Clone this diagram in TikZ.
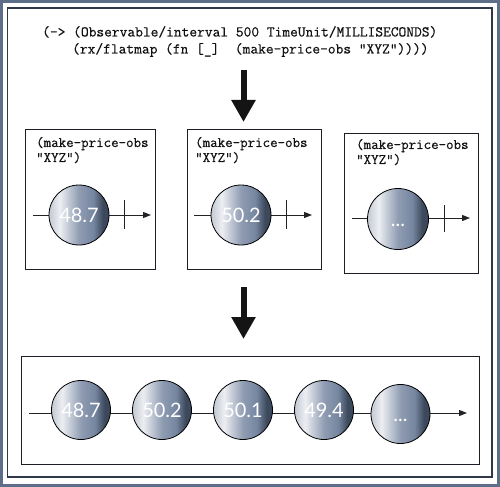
\documentclass[tikz,border=0pt]{standalone}
\usepackage{fontspec}
\usetikzlibrary{arrows.meta,backgrounds}
\newfontfamily\orbfont{Lato}
\newfontfamily\codefont{Latin Modern Mono}[FakeBold=0.5]
\definecolor{frameslate}{HTML}{5D6E88}
\definecolor{innerframe}{HTML}{2E3846}
\definecolor{boxline}{HTML}{1C2026}
\definecolor{codeblack}{HTML}{111111}
\definecolor{linedark}{HTML}{222326}
\definecolor{arrowblack}{HTML}{141414}
\definecolor{orbE}{HTML}{C3C9D3}
\definecolor{orbL}{HTML}{ECEEF2}
\definecolor{orbM}{HTML}{8F9CB2}
\definecolor{orbN}{HTML}{7686A0}
\definecolor{orbD}{HTML}{3C485B}
\pgfdeclarehorizontalshading{orbshade}{100bp}{color(0bp)=(orbE); color(25bp)=(orbE); color(34bp)=(orbL); color(50bp)=(orbM); color(62bp)=(orbN); color(70bp)=(orbD); color(100bp)=(orbD)}
\begin{document}
\begin{tikzpicture}[x=1bp,y=-1bp,
  orb/.style={circle, draw=black, line width=0.8bp, shading=orbshade, minimum size=60bp, inner sep=0pt, text=white, font=\orbfont\fontsize{20}{20}\selectfont},
  smallorb/.style={orb, minimum size=59bp},
  obsbox/.style={draw=boxline, line width=1.2bp, rectangle, inner sep=0pt, anchor=north west},
  codeline/.style={anchor=base west, inner sep=0pt, text=codeblack, font=\codefont\fontsize{15.1}{17}\selectfont},
  boxcode/.style={anchor=base west, inner sep=0pt, text=codeblack, font=\codefont\fontsize{14.6}{16}\selectfont},
  bigarrow/.style={line width=6bp, draw=arrowblack, -{Triangle[length=22bp,width=23bp]}},
  stream/.style={line width=1bp, draw=linedark, -{Triangle[length=8bp,width=6bp]}},
  tickline/.style={line width=1bp, draw=linedark}]
\useasboundingbox (0,0) rectangle (500,487);
% frames
\draw[frameslate, line width=3bp] (1.5,1.5) rectangle (498.5,485.5);
\draw[innerframe, line width=1.4bp] (7.7,8.2) rectangle (492,477);
% code
\node[codeline] (code1) at (42,36.5) {(-> (Observable/interval 500 TimeUnit/MILLISECONDS)};
\node[codeline] (code2) at (72,53.5) {(rx/flatmap (fn [\_]\ \ (make-price-obs "XYZ"))))};
% arrows
\coordinate (a1s) at (243.5,70);
\coordinate (a1e) at (243.5,122);
\coordinate (a2s) at (243.5,287);
\coordinate (a2e) at (243.5,339);
\draw[bigarrow] (a1s) -- (a1e);
\draw[bigarrow] (a2s) -- (a2e);
% boxes
\node[obsbox, minimum width=130bp, minimum height=140bp] (b1) at (25,129) {};
\node[obsbox, minimum width=134bp, minimum height=140bp] (b2) at (187,129) {};
\node[obsbox, minimum width=134bp, minimum height=140bp] (b3) at (344,133) {};
\node[obsbox, minimum width=458bp, minimum height=108bp] (b4) at (21,356) {};
% box texts
\node[boxcode] (p1a) at (36,147) {(make-price-obs};
\node[boxcode] (p1b) at (36,162) {"XYZ")};
\node[boxcode] (p2a) at (195,147) {(make-price-obs};
\node[boxcode] (p2b) at (195,162) {"XYZ")};
\node[boxcode] (p3a) at (356,149) {(make-price-obs};
\node[boxcode] (p3b) at (356,164) {"XYZ")};
% orbs
\node[orb] (c1) at (79,215) {48.7};
\node[orb] (c2) at (241,215) {50.2};
\node[orb, minimum size=61bp] (c3) at (398,219) {\vphantom{0}...};
\node[smallorb] (d1) at (81,410) {48.7};
\node[smallorb] (d2) at (162,410) {50.2};
\node[smallorb] (d3) at (243,410) {50.1};
\node[smallorb] (d4) at (324,410) {49.4};
\node[smallorb] (d5) at (400.5,414) {\vphantom{0}...};
% stream lines
\coordinate (s1) at (33,215);  \coordinate (e1) at (151,215);
\coordinate (s2) at (194,215); \coordinate (e2) at (312,215);
\coordinate (s3) at (352,218); \coordinate (e3) at (470,218);
\coordinate (s4) at (29,413);  \coordinate (e4) at (467,413);
\coordinate (t1a) at (124,200); \coordinate (t1b) at (124,229);
\coordinate (t2a) at (286,200); \coordinate (t2b) at (286,229);
\coordinate (t3a) at (444,205); \coordinate (t3b) at (444,232);
\begin{scope}[on background layer]
\draw[stream] (s1) -- (e1);
\draw[stream] (s2) -- (e2);
\draw[stream] (s3) -- (e3);
\draw[stream] (s4) -- (e4);
\end{scope}
\draw[tickline] (t1a) -- (t1b);
\draw[tickline] (t2a) -- (t2b);
\draw[tickline] (t3a) -- (t3b);
\end{tikzpicture}
\end{document}
